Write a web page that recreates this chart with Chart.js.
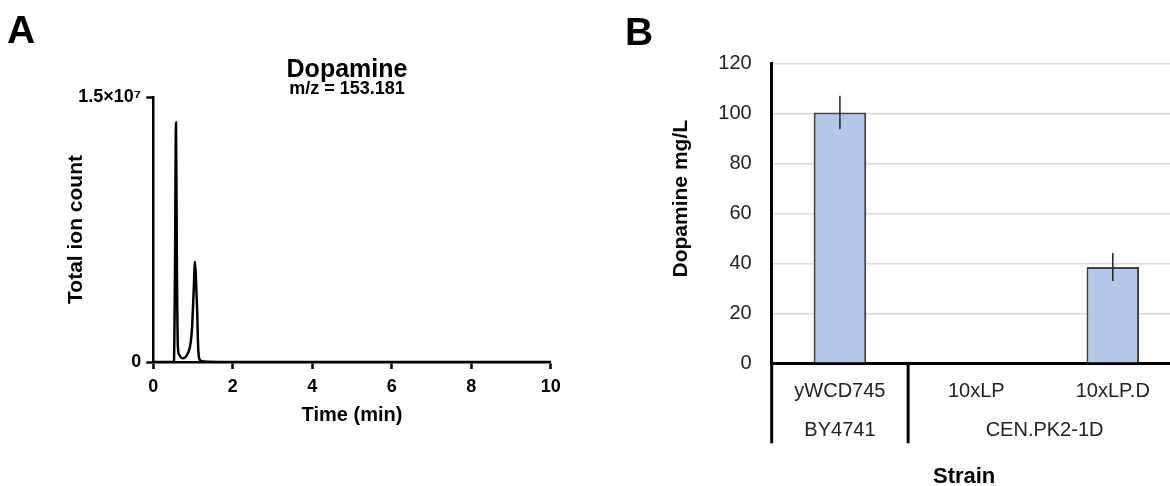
<!DOCTYPE html>
<html>
<head>
<meta charset="utf-8">
<title>Dopamine</title>
<script src="https://cdn.jsdelivr.net/npm/chart.js@4.4.1/dist/chart.umd.min.js"></script>
<style>
  html, body { margin: 0; padding: 0; background: #fff; }
  body { width: 1170px; height: 486px; overflow: hidden; position: relative; font-family: 'Liberation Sans', Arial, sans-serif; }
  .panel { position: absolute; top: 0; }
  #panelA { left: 0; width: 580px; height: 486px; }
  #panelB { left: 580px; width: 620px; height: 500px; }
  .letter { position: absolute; font-weight: bold; font-size: 39px; line-height: 39px; color: #000; }
  .title { position: absolute; width: 300px; text-align: center; font-weight: bold; color: #000; }
</style>
</head>
<body>
<div class="panel" id="panelA"><canvas id="chromChart"></canvas></div>
<div class="panel" id="panelB"><canvas id="strainChart"></canvas></div>
<div class="letter" style="left:7px; top:10px;">A</div>
<div class="letter" style="left:625px; top:12px;">B</div>
<div class="title" style="left:197px; top:56px; font-size:25px; line-height:25px;">Dopamine</div>
<div class="title" style="left:197px; top:79px; font-size:18px; line-height:18px;">m/z = 153.181</div>

<script>
// Panel A: ion chromatogram, m/z 153.181
const timeMin = [0, 0.5, 0.52, 0.545, 0.571, 0.595, 0.62, 0.65, 0.7, 0.755,
                 0.82, 0.88, 0.924, 0.96, 0.981, 1.017, 1.049, 1.075, 1.1, 1.132,
                 1.175, 1.25, 1.4, 2, 4, 6, 8, 10];
const ionCount = [0, 0, 50000, 5000000, 13550000, 5000000, 800000, 420000, 250000, 210000,
                  300000, 550000, 870000, 1500000, 2190000, 4080000, 5680000, 4600000, 3130000, 680000,
                  110000, 40000, 10000, 0, 0, 0, 0, 0];
const ionTickValues = [0, 15000000];
const ionTickLabels = ['0', '1.5\u00d710\u2077'];

// Panel B: dopamine titre per strain
const strains = ['yWCD745', '10xLP', '10xLP.D'];
const backgrounds = ['BY4741', 'CEN.PK2-1D'];
const backgroundSizes = [1, 2];
const dopamine = [100.3, 0, 38.5];
const dopamineErr = [6.7, 0, 5.6];

const FONT = "'Liberation Sans', Arial, Helvetica, sans-serif";
Chart.defaults.font.family = FONT;
Chart.defaults.color = '#000';

const boldFont = (size) => ({ family: FONT, size: size, weight: 'bold' });

// centre of each background group on the category axis
const groupCenters = [];
let start = 0;
backgroundSizes.forEach(size => {
    groupCenters.push(start + (size - 1) / 2);
    start += size;
});

// Chromatogram
new Chart(document.getElementById('chromChart'), {
    type: 'line',
    data: {
        datasets: [{
            data: timeMin.map((t, i) => ({ x: t, y: ionCount[i] })),
            borderColor: '#000',
            borderWidth: 2.5,
            pointRadius: 0,
            cubicInterpolationMode: 'monotone',
            fill: false
        }]
    },
    options: {
        responsive: true,
        maintainAspectRatio: false,
        animation: false,
        layout: { padding: { top: 97, right: 29.3, bottom: 54, left: 0 } },
        plugins: {
            legend: { display: false },
            tooltip: { enabled: false }
        },
        scales: {
            x: {
                type: 'linear',
                min: 0,
                max: 10,
                ticks: { stepSize: 2, font: boldFont(18), color: '#000', padding: 7, maxRotation: 0 },
                grid: { drawOnChartArea: false, drawTicks: true, tickLength: 7, tickColor: '#000', tickWidth: 2.5 },
                border: { color: '#000', width: 2.5 },
                title: { display: true, text: 'Time (min)', font: boldFont(20), color: '#000', padding: { top: 0, bottom: 5 } },
                afterFit: (s) => { s.height = 70; s.paddingLeft = 0; s.paddingRight = 0; }
            },
            y: {
                min: 0,
                max: 15000000,
                afterBuildTicks: (s) => { s.ticks = ionTickValues.map(v => ({ value: v })); },
                ticks: { callback: (v, i) => ionTickLabels[i], font: boldFont(18), color: '#000', padding: 5 },
                grid: { drawOnChartArea: false, drawTicks: true, tickLength: 7, tickColor: '#000', tickWidth: 2.5 },
                border: { color: '#000', width: 2.5 },
                title: { display: true, text: 'Total ion count', font: boldFont(21), color: '#000', padding: { top: 63.4, bottom: 0 } },
                afterFit: (s) => { s.width = 153.3; s.paddingTop = 0; s.paddingBottom = 0; }
            }
        }
    }
});

// Error bars (no caps)
const errorBars = {
    id: 'errorBars',
    afterDatasetsDraw(chart) {
        const { ctx, scales: { x, y } } = chart;
        ctx.save();
        ctx.strokeStyle = '#222';
        ctx.lineWidth = 1.5;
        dopamine.forEach((v, i) => {
            if (!dopamineErr[i]) return;
            const px = x.getPixelForValue(i);
            ctx.beginPath();
            ctx.moveTo(px, y.getPixelForValue(v - dopamineErr[i]));
            ctx.lineTo(px, y.getPixelForValue(v + dopamineErr[i]));
            ctx.stroke();
        });
        ctx.restore();
    }
};

// Vertical dividers between strain backgrounds, under the axis
const groupDividers = {
    id: 'groupDividers',
    afterDraw(chart) {
        const { ctx, chartArea, scales: { x2 } } = chart;
        const edges = [-0.5];
        backgroundSizes.forEach(size => edges.push(edges[edges.length - 1] + size));
        ctx.save();
        ctx.strokeStyle = '#000';
        ctx.lineWidth = 3;
        edges.forEach(e => {
            const px = x2.getPixelForValue(e);
            ctx.beginPath();
            ctx.moveTo(px, chartArea.bottom);
            ctx.lineTo(px, chartArea.bottom + 80);
            ctx.stroke();
        });
        ctx.restore();
    }
};

// Bar chart
new Chart(document.getElementById('strainChart'), {
    type: 'bar',
    data: {
        labels: strains,
        datasets: [{
            data: dopamine,
            backgroundColor: '#b4c7e7',
            borderColor: '#404040',
            borderWidth: 2,
            barPercentage: 0.385,
            categoryPercentage: 1
        }]
    },
    options: {
        responsive: true,
        maintainAspectRatio: false,
        animation: false,
        layout: { padding: { top: 63.3, right: 19, bottom: 0, left: 0 } },
        plugins: {
            legend: { display: false },
            tooltip: { enabled: false }
        },
        scales: {
            x: {
                offset: true,
                weight: 0,
                ticks: { font: { size: 20 }, color: '#222', padding: 16.4, maxRotation: 0, autoSkip: false },
                grid: { drawOnChartArea: false, drawTicks: false },
                border: { color: '#000', width: 3 },
                afterFit: (s) => { s.height = 45; s.paddingLeft = 0; s.paddingRight = 0; }
            },
            x2: {
                type: 'linear',
                position: 'bottom',
                weight: 1,
                offset: false,
                bounds: 'data',
                min: -0.5,
                max: strains.length - 0.5,
                afterBuildTicks: (s) => {
                    s.min = -0.5;
                    s.max = strains.length - 0.5;
                    s.ticks = groupCenters.map(v => ({ value: v }));
                },
                ticks: { callback: (v, i) => backgrounds[i], font: { size: 20 }, color: '#222', padding: 9.7, maxRotation: 0, autoSkip: false },
                grid: { offset: false, drawOnChartArea: false, drawTicks: false },
                border: { display: false },
                title: { display: true, text: 'Strain    ', font: boldFont(22), color: '#000', padding: { top: 0, bottom: 9.8 } },
                afterFit: (s) => { s.height = 91.7; s.paddingLeft = 0; s.paddingRight = 0; }
            },
            y: {
                min: 0,
                max: 120,
                ticks: { stepSize: 20, font: { size: 20 }, color: '#222', padding: 20 },
                grid: { color: '#d9d9d9', lineWidth: 1.5, drawTicks: false },
                border: { color: '#000', width: 3 },
                title: { display: true, text: '     Dopamine mg/L', font: boldFont(21), color: '#000', padding: { top: 88.4, bottom: 0 } },
                afterFit: (s) => { s.width = 191.7; s.paddingTop = 0; s.paddingBottom = 0; }
            }
        }
    },
    plugins: [errorBars, groupDividers]
});
</script>
</body>
</html>
